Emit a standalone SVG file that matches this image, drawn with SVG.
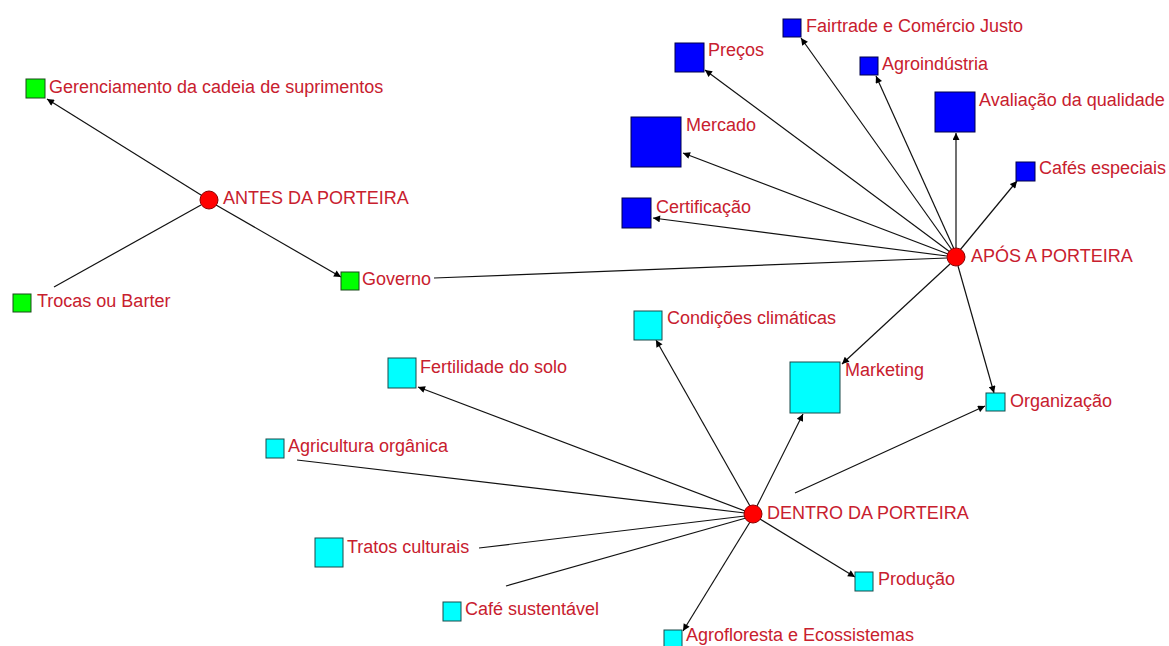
<svg xmlns="http://www.w3.org/2000/svg" width="1169" height="646" viewBox="0 0 1169 646">
<defs>
<marker id="arr" viewBox="0 0 10 10" refX="10" refY="5" markerWidth="9" markerHeight="7" markerUnits="userSpaceOnUse" orient="auto">
<path d="M0,0 L10,5 L0,10 z" fill="#000"/>
</marker>
</defs>
<style>
.e{stroke:#111;stroke-width:1.2;fill:none}
.a{marker-end:url(#arr)}
.g{fill:#00ff00;stroke:#1a4a1a;stroke-width:1}
.b{fill:#0000ff;stroke:#00004a;stroke-width:1}
.c{fill:#00ffff;stroke:#1a4a4a;stroke-width:1}
.r{fill:#ff0000;stroke:#8a0000;stroke-width:1}
text{font-family:"Liberation Sans",Arial,sans-serif;font-size:18px;fill:#c8202e}
</style>
<rect width="1169" height="646" fill="#fff"/>
<g id="connectors">
<line class="e a" x1="209" y1="200" x2="47" y2="99"/>
<line class="e" x1="54" y1="287" x2="201" y2="205"/>
<line class="e a" x1="216" y1="205" x2="341" y2="277"/>
<line class="e" x1="434" y1="278" x2="947" y2="258"/>
<line class="e a" x1="950" y1="252" x2="705" y2="70"/>
<line class="e a" x1="952" y1="250" x2="801" y2="38"/>
<line class="e a" x1="954" y1="249" x2="876" y2="76"/>
<line class="e a" x1="956" y1="248" x2="956" y2="133"/>
<line class="e a" x1="960" y1="250" x2="1017" y2="181"/>
<line class="e a" x1="948" y1="254" x2="683" y2="153"/>
<line class="e a" x1="947" y1="256" x2="653" y2="218"/>
<line class="e a" x1="950" y1="264" x2="842" y2="364"/>
<line class="e a" x1="958" y1="266" x2="994" y2="393"/>
<line class="e a" x1="750" y1="506" x2="656" y2="340"/>
<line class="e a" x1="745" y1="511" x2="418" y2="387"/>
<line class="e" x1="297" y1="460" x2="745" y2="513"/>
<line class="e" x1="479" y1="548" x2="745" y2="516"/>
<line class="e" x1="506" y1="586" x2="746" y2="518"/>
<line class="e a" x1="757" y1="506" x2="803" y2="414"/>
<line class="e a" x1="795" y1="493" x2="985" y2="406"/>
<line class="e a" x1="760" y1="519" x2="855" y2="577"/>
<line class="e a" x1="750" y1="522" x2="683" y2="631"/>
</g>
<g id="n-gerenciamento"><rect class="g" x="26" y="79" width="19" height="19"/><text x="49" y="93">Gerenciamento da cadeia de suprimentos</text></g>
<g id="n-antes"><circle class="r" cx="209" cy="200" r="9"/><text x="223" y="204">ANTES DA PORTEIRA</text></g>
<g id="n-trocas"><rect class="g" x="13" y="294" width="18" height="18"/><text x="37" y="307">Trocas ou Barter</text></g>
<g id="n-governo"><rect class="g" x="341" y="272" width="18" height="18"/><text x="362" y="285">Governo</text></g>
<g id="n-precos"><rect class="b" x="675" y="43" width="29" height="29"/><text x="708" y="56">Preços</text></g>
<g id="n-fairtrade"><rect class="b" x="783" y="19" width="18" height="18"/><text x="806" y="32">Fairtrade e Comércio Justo</text></g>
<g id="n-agroindustria"><rect class="b" x="860" y="57" width="18" height="18"/><text x="882" y="70">Agroindústria</text></g>
<g id="n-avaliacao"><rect class="b" x="935" y="92" width="40" height="40"/><text x="979" y="106">Avaliação da qualidade</text></g>
<g id="n-mercado"><rect class="b" x="631" y="117" width="50" height="50"/><text x="686" y="131">Mercado</text></g>
<g id="n-cafes"><rect class="b" x="1016" y="162" width="19" height="19"/><text x="1039" y="174">Cafés especiais</text></g>
<g id="n-certificacao"><rect class="b" x="622" y="198" width="29" height="30"/><text x="656" y="213">Certificação</text></g>
<g id="n-apos"><circle class="r" cx="956" cy="257" r="9"/><text x="971" y="262">APÓS A PORTEIRA</text></g>
<g id="n-condicoes"><rect class="c" x="634" y="311" width="28" height="29"/><text x="667" y="324">Condições climáticas</text></g>
<g id="n-fertilidade"><rect class="c" x="388" y="358" width="28" height="30"/><text x="420" y="373">Fertilidade do solo</text></g>
<g id="n-marketing"><rect class="c" x="790" y="362" width="50" height="51"/><text x="845" y="376">Marketing</text></g>
<g id="n-organizacao"><rect class="c" x="986" y="393" width="19" height="18"/><text x="1010" y="407">Organização</text></g>
<g id="n-agricultura"><rect class="c" x="266" y="439" width="18" height="19"/><text x="288" y="452">Agricultura orgânica</text></g>
<g id="n-dentro"><circle class="r" cx="753" cy="514" r="9"/><text x="767" y="519">DENTRO DA PORTEIRA</text></g>
<g id="n-tratos"><rect class="c" x="315" y="538" width="28" height="29"/><text x="347" y="553">Tratos culturais</text></g>
<g id="n-producao"><rect class="c" x="855" y="572" width="18" height="19"/><text x="878" y="585">Produção</text></g>
<g id="n-cafesust"><rect class="c" x="443" y="602" width="18" height="19"/><text x="465" y="615">Café sustentável</text></g>
<g id="n-agrofloresta"><rect class="c" x="664" y="630" width="18" height="18"/><text x="686" y="641">Agrofloresta e Ecossistemas</text></g>
</svg>
